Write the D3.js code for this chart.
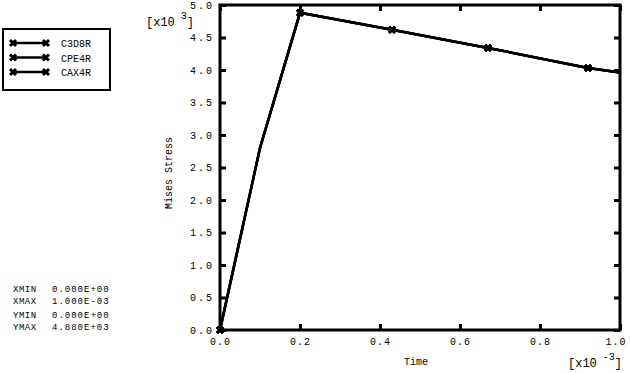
<!DOCTYPE html>
<html>
<head>
<meta charset="utf-8">
<script src="https://cdn.jsdelivr.net/npm/d3@7"></script>
<style>
body { margin: 0; background: #fff; }
text { font-family: "Liberation Mono", "DejaVu Sans Mono", monospace; font-size: 10px; fill: #000; }
</style>
</head>
<body>
<div id="chart"></div>
<script>
var seriesNames = ['C3D8R', 'CPE4R', 'CAX4R'];
var times = [0, 0.1, 0.2, 0.43, 0.67, 0.92, 1.0];
var stress = [0, 2.8, 4.88, 4.62, 4.34, 4.03, 3.96];
var hasMarker = [true, false, true, true, true, true, false];
var xTicks = [0, 0.2, 0.4, 0.6, 0.8, 1.0];
var yTicks = [0, 0.5, 1, 1.5, 2, 2.5, 3, 3.5, 4, 4.5, 5];
var infoLabels = ['XMIN', 'XMAX', 'YMIN', 'YMAX'];
var infoValues = ['0.000E+00', '1.000E-03', '0.000E+00', '4.880E+03'];

var w = 630, h = 373;
var padding = { top: 5, right: 10, bottom: 43, left: 220 };

var svg = d3.select('#chart').append('svg')
	.attr('width', w)
	.attr('height', h);

var xScale = d3.scaleLinear().domain([0, 1]).range([padding.left, w - padding.right]);
var yScale = d3.scaleLinear().domain([0, 5]).range([h - padding.bottom, padding.top]);

var pts = times.map(function (t, i) { return { t: t, v: stress[i], m: hasMarker[i] }; });

// frame
svg.append('rect')
	.attr('x', xScale(0)).attr('y', yScale(5))
	.attr('width', xScale(1) - xScale(0)).attr('height', yScale(0) - yScale(5))
	.attr('fill', 'none').attr('stroke', '#000').attr('stroke-width', 3);

// inward ticks on all four sides
var tk = 6;
svg.append('g').call(d3.axisBottom(xScale).tickValues(xTicks).tickSizeInner(-tk).tickSizeOuter(0).tickFormat(d3.format('.1f')))
	.attr('transform', 'translate(0,' + yScale(0) + ')')
	.call(function (g) {
		g.select('.domain').remove();
		g.selectAll('line').attr('stroke-width', 3);
		g.selectAll('text').attr('y', 8).attr('dy', '0.71em').style('letter-spacing', '1px');
		// last label kept inside the page, as in the original
		g.selectAll('text').filter(function (d) { return d === 1; })
			.attr('text-anchor', 'end').attr('x', 6);
	});
svg.append('g').call(d3.axisTop(xScale).tickValues(xTicks).tickSizeInner(-tk).tickSizeOuter(0).tickFormat(''))
	.attr('transform', 'translate(0,' + yScale(5) + ')')
	.call(function (g) { g.select('.domain').remove(); g.selectAll('line').attr('stroke-width', 3); });
svg.append('g').call(d3.axisLeft(yScale).tickValues(yTicks).tickSizeInner(-tk).tickSizeOuter(0).tickFormat(d3.format('.1f')))
	.attr('transform', 'translate(' + xScale(0) + ',0)')
	.call(function (g) {
		g.select('.domain').remove();
		g.selectAll('line').attr('stroke-width', 3);
		g.selectAll('text').attr('x', -6).style('letter-spacing', '2px');
	});
svg.append('g').call(d3.axisRight(yScale).tickValues(yTicks).tickSizeInner(-tk).tickSizeOuter(0).tickFormat(''))
	.attr('transform', 'translate(' + xScale(1) + ',0)')
	.call(function (g) { g.select('.domain').remove(); g.selectAll('line').attr('stroke-width', 3); });
svg.selectAll('.tick text').attr('font-family', null).attr('font-size', null);

// cross marker
function cross(x, y) {
	var s = 3;
	return 'M' + (x - s) + ',' + (y - s) + 'L' + (x + s) + ',' + (y + s) +
		'M' + (x - s) + ',' + (y + s) + 'L' + (x + s) + ',' + (y - s);
}

var line = d3.line().x(function (d) { return xScale(d.t); }).y(function (d) { return yScale(d.v); });
seriesNames.forEach(function (name) {
	var g = svg.append('g');
	g.append('path').datum(pts).attr('d', line)
		.attr('fill', 'none').attr('stroke', '#000').attr('stroke-width', 2.5);
	g.selectAll('path.mk').data(pts.filter(function (d) { return d.m; })).enter()
		.append('path').attr('class', 'mk')
		.attr('d', function (d) { return cross(xScale(d.t), yScale(d.v)); })
		.attr('stroke', '#000').attr('stroke-width', 3);
});

// axis titles and multipliers
svg.append('text').attr('x', 404).attr('y', 365).text('Time');
svg.append('text').attr('transform', 'translate(172,173) rotate(-90)')
	.attr('text-anchor', 'middle').text('Mises Stress');
var yMul = svg.append('text').attr('x', 146).attr('y', 26).style('font-size', '12px');
yMul.append('tspan').text('[x10');
yMul.append('tspan').attr('dy', -7).style('font-size', '10px').text(' 3');
yMul.append('tspan').attr('dy', 7).text(']');
var xMul = svg.append('text').attr('x', 568).attr('y', 367).style('font-size', '12px');
xMul.append('tspan').text('[x10');
xMul.append('tspan').attr('dy', -7).style('font-size', '10px').text(' -3');
xMul.append('tspan').attr('dy', 7).text(']');

// legend
svg.append('rect').attr('x', 3).attr('y', 29).attr('width', 107).attr('height', 61)
	.attr('fill', '#fff').attr('stroke', '#000').attr('stroke-width', 2);
seriesNames.forEach(function (name, i) {
	var y = 43 + i * 14.5;
	svg.append('line').attr('x1', 13).attr('x2', 46).attr('y1', y).attr('y2', y)
		.attr('stroke', '#000').attr('stroke-width', 2.5);
	svg.append('path').attr('d', cross(13, y) + cross(46, y)).attr('stroke', '#000').attr('stroke-width', 3);
	svg.append('text').attr('x', 61).attr('y', y + 4).text(name);
});

// limits block
var infoY = [292, 304, 318, 330];
infoLabels.forEach(function (lab, i) {
	svg.append('text').attr('x', 13).attr('y', infoY[i]).style('font-size', '9px').style('letter-spacing', '0.5px').text(lab);
	svg.append('text').attr('x', 52).attr('y', infoY[i]).style('font-size', '9px').style('letter-spacing', '1px').text(infoValues[i]);
});
</script>
</body>
</html>
